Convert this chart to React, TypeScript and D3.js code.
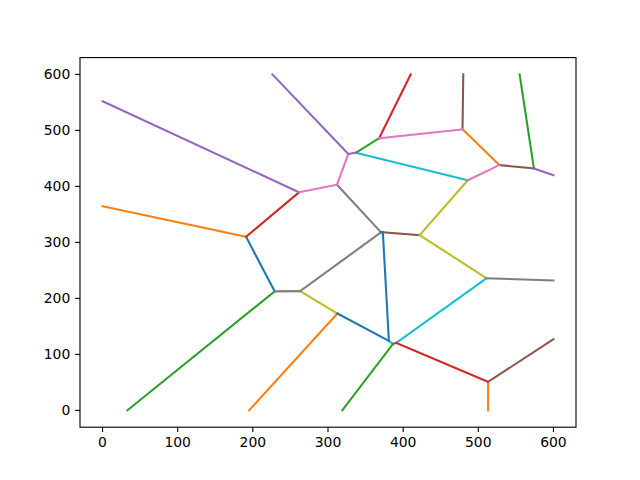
import React from "react";
import * as d3 from "d3";

// Voronoi-like edges: [x1, y1, x2, y2], in drawing order (colour follows the tab10 cycle)
const segments: [number, number, number, number][] = [
  // round 1
  [191, 310, 229, 212.5],
  [0, 364.5, 191, 310],
  [229, 212.5, 33, 0],
  [191, 310, 261.5, 389.5],
  [0, 552, 261.5, 389.5],
  [373, 318, 422, 313],
  [261.5, 389.5, 312, 403],
  [312, 403, 370.6, 318],
  [422, 313, 486, 411],
  [337, 460, 486, 411],
  // round 2
  [373, 318, 381, 124],
  [195, 0, 312.5, 173],
  [337, 460, 368, 486],
  [368, 486, 410, 600],
  [226, 600, 327, 458],
  [479, 502, 480, 600],
  [312, 403, 327, 458],
  [229, 212.5, 263, 213],
  [263, 213, 312.5, 173],
  [381, 124, 386.5, 118.6],
  // round 3
  [312.5, 173, 381, 124],
  [479, 502, 528, 438],
  [574, 432, 555, 600],
  [386.5, 118.6, 391, 120.5],
  [327, 458, 337, 460],
  [528, 438, 574, 432],
  [368, 486, 479, 502],
  [263, 213, 370.6, 318],
  [422, 313, 511, 236],
  [391, 120.5, 511, 236],
  // round 4
  [370.6, 318, 373, 318],
  [513, 51, 513, 0],
  [386.5, 118.6, 319, 0],
  [391, 120.5, 513, 51],
  [574, 432, 600, 420],
  [513, 51, 600, 127],
  [486, 411, 528, 438],
  [511, 236, 600, 232],
];

const xTicks = [0, 100, 200, 300, 400, 500, 600];
const yTicks = [0, 100, 200, 300, 400, 500, 600];

const tab10 = [
  "#1f77b4", "#ff7f0e", "#2ca02c", "#d62728", "#9467bd",
  "#8c564b", "#e377c2", "#7f7f7f", "#bcbd22", "#17becf",
];

export default function App() {
  const W = 640, H = 480;
  const left = 80, right = 576, top = 57.6, bottom = 427.2;
  const x = d3.scaleLinear().domain([-30, 630]).range([left, right]);
  const y = d3.scaleLinear().domain([-30, 630]).range([bottom, top]);
  const tickLen = 4.86;
  const font = "DejaVu Sans, sans-serif";
  return (
    <div style={{ position: "absolute", left: 0, top: 0 }}>
      <svg width={W} height={H} style={{ display: "block", background: "#fff" }}>
        <rect x={0} y={0} width={W} height={H} fill="#fff" />
        <g>
          {segments.map((s, i) => (
            <line
              key={i}
              x1={x(s[0])}
              y1={y(s[1])}
              x2={x(s[2])}
              y2={y(s[3])}
              stroke={tab10[i % 10]}
              strokeWidth={2.08}
              strokeLinecap="square"
            />
          ))}
        </g>
        <rect x={left} y={top} width={right - left} height={bottom - top} fill="none" stroke="#000" strokeWidth={1.11} />
        {xTicks.map((t) => (
          <g key={"x" + t}>
            <line x1={x(t)} x2={x(t)} y1={bottom} y2={bottom + tickLen} stroke="#000" strokeWidth={1.11} />
            <text x={x(t)} y={bottom + tickLen + 4.86 + 10.2} textAnchor="middle" fontFamily={font} fontSize={13.9} fill="#000">
              {t}
            </text>
          </g>
        ))}
        {yTicks.map((t) => (
          <g key={"y" + t}>
            <line x1={left - tickLen} x2={left} y1={y(t)} y2={y(t)} stroke="#000" strokeWidth={1.11} />
            <text x={left - tickLen - 4.86} y={y(t)} dy="0.36em" textAnchor="end" fontFamily={font} fontSize={13.9} fill="#000">
              {t}
            </text>
          </g>
        ))}
      </svg>
    </div>
  );
}
